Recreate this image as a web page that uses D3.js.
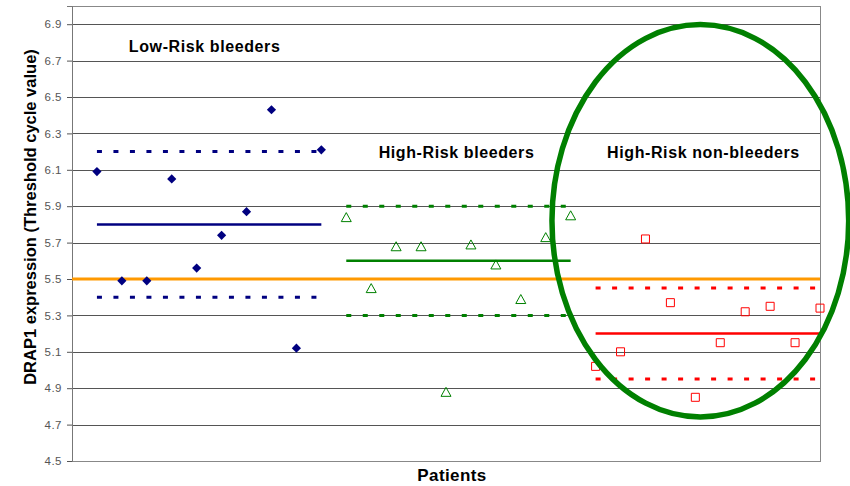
<!DOCTYPE html>
<html>
<head>
<meta charset="utf-8">
<script src="https://cdn.jsdelivr.net/npm/d3@7"></script>
<style>
  body { margin: 0; background: #fff; }
  svg { display: block; font-family: "Liberation Sans", Arial, sans-serif; }
</style>
</head>
<body>
<div id="chart"></div>
<script>
// Values
const lowRisk = [6.09, 5.49, 5.49, 6.05, 5.56, 5.74, 5.87, 6.43, 5.12, 6.21];
const highRiskBleeders = [5.84, 5.45, 5.68, 5.68, 4.88, 5.69, 5.58, 5.39, 5.73, 5.85];
const highRiskNonBleeders = [5.02, 5.10, 5.72, 5.37, 4.85, 5.15, 5.32, 5.35, 5.15, 5.34];

const groupNames = ["Low-Risk bleeders", "High-Risk bleeders", "High-Risk non-bleeders"];
const groupMean = [5.8, 5.6, 5.2];
const groupUpper = [6.2, 5.9, 5.45];
const groupLower = [5.4, 5.3, 4.95];
const cutoff = 5.5;

const yTicks = [4.5, 4.7, 4.9, 5.1, 5.3, 5.5, 5.7, 5.9, 6.1, 6.3, 6.5, 6.7, 6.9];
const gridTicks = [4.7, 4.9, 5.1, 5.3, 5.5, 5.7, 5.9, 6.1, 6.3, 6.5, 6.7, 6.9];

const width = 850, height = 486;
const margin = { top: 6, right: 30, bottom: 25, left: 72 };
const innerWidth = width - margin.left - margin.right;
const innerHeight = height - margin.top - margin.bottom;

const svg = d3.select("#chart").append("svg")
  .attr("width", width)
  .attr("height", height);

const inner = svg.append("g")
  .attr("transform", `translate(${margin.left},${margin.top})`);

const x = d3.scaleLinear().domain([0, 30]).range([0, innerWidth]);
const y = d3.scaleLinear().domain([4.5, 7.0]).range([innerHeight, 0]);

// Gridlines
inner.selectAll(".grid")
  .data(gridTicks)
  .enter()
  .append("line")
  .attr("x1", 0)
  .attr("x2", innerWidth)
  .attr("y1", d => Math.round(y(d)) + 0.5)
  .attr("y2", d => Math.round(y(d)) + 0.5)
  .attr("stroke", "#555")
  .attr("stroke-width", 1);

// Plot frame
inner.append("rect")
  .attr("x", 0.5)
  .attr("y", 0.5)
  .attr("width", innerWidth)
  .attr("height", innerHeight)
  .attr("fill", "none")
  .attr("stroke", "#888");

// Y axis
const yAxis = inner.append("g")
  .call(d3.axisLeft(y).tickValues(yTicks).tickSize(5).tickPadding(5).tickFormat(d3.format(".1f")));
yAxis.select(".domain").attr("stroke", "#777");
yAxis.selectAll(".tick line").attr("stroke", "#555");
yAxis.selectAll(".tick text")
  .attr("font-size", "11.5px")
  .attr("font-family", "\"Liberation Sans\", Arial, sans-serif")
  .attr("letter-spacing", "0.5px")
  .attr("fill", "#555");

// Cutoff line
inner.append("line")
  .attr("x1", 0)
  .attr("x2", innerWidth)
  .attr("y1", y(cutoff))
  .attr("y2", y(cutoff))
  .attr("stroke", "#FF9900")
  .attr("stroke-width", 3);

const groups = [
  { values: lowRisk, color: "#000080", shape: "diamond" },
  { values: highRiskBleeders, color: "#008000", shape: "triangle" },
  { values: highRiskNonBleeders, color: "#FF0000", shape: "square" }
];

groups.forEach((g, gi) => {
  const x1 = x(gi * 10 + 1), x2 = x(gi * 10 + 10);

  // mean line
  inner.append("line")
    .attr("x1", x1).attr("x2", x2)
    .attr("y1", y(groupMean[gi])).attr("y2", y(groupMean[gi]))
    .attr("stroke", g.color)
    .attr("stroke-width", 2.5);

  // spread lines
  [groupUpper[gi], groupLower[gi]].forEach(v => {
    inner.append("line")
      .attr("x1", x1).attr("x2", x2)
      .attr("y1", y(v)).attr("y2", y(v))
      .attr("stroke", g.color)
      .attr("stroke-width", 3)
      .attr("stroke-dasharray", "5,11.5");
  });
});

// Markers
groups.forEach((g, gi) => {
  const pts = inner.selectAll(".pt" + gi)
    .data(g.values)
    .enter()
    .append("path")
    .attr("class", "pt" + gi)
    .attr("transform", (d, i) => `translate(${x(gi * 10 + i + 1)},${y(d)})`);

  if (g.shape === "diamond") {
    pts.attr("d", "M0,-4.6L4.6,0L0,4.6L-4.6,0Z").attr("fill", g.color);
  } else if (g.shape === "triangle") {
    pts.attr("d", "M0,-4.5L5,4.5L-5,4.5Z")
      .attr("fill", "none").attr("stroke", g.color).attr("stroke-width", 1);
  } else {
    pts.attr("d", "M-4,-4H4V4H-4Z")
      .attr("fill", "none").attr("stroke", g.color).attr("stroke-width", 1);
  }
});

// Group labels
const labelPos = [
  { x: 2.28, y: 6.745 },
  { x: 12.3, y: 6.165 },
  { x: 21.46, y: 6.165 }
];
inner.selectAll(".group-label")
  .data(groupNames)
  .enter()
  .append("text")
  .attr("class", "group-label")
  .attr("x", (d, i) => x(labelPos[i].x))
  .attr("y", (d, i) => y(labelPos[i].y))
  .attr("font-size", "16px")
  .attr("font-weight", "bold")
  .attr("letter-spacing", "0.6px")
  .attr("fill", "#000")
  .text(d => d);

// Highlight ellipse around the high-risk non-bleeders
const ring = { cx: 25.2, cy: 5.82, rx: 5.95, ry: 1.078 };
inner.append("ellipse")
  .attr("cx", x(ring.cx))
  .attr("cy", y(ring.cy))
  .attr("rx", x(ring.rx) - x(0))
  .attr("ry", y(0) - y(ring.ry))
  .attr("fill", "none")
  .attr("stroke", "#008000")
  .attr("stroke-width", 5.5);

// Axis titles
svg.append("text")
  .attr("x", margin.left + innerWidth / 2 + 6)
  .attr("y", 481)
  .attr("text-anchor", "middle")
  .attr("font-size", "17px")
  .attr("font-weight", "bold")
  .attr("letter-spacing", "0.4px")
  .text("Patients");

svg.append("text")
  .attr("transform", "rotate(-90)")
  .attr("x", -217)
  .attr("y", 36)
  .attr("text-anchor", "middle")
  .attr("font-size", "16.5px")
  .attr("font-weight", "bold")
  .text("DRAP1 expression (Threshold cycle value)");
</script>
</body>
</html>
